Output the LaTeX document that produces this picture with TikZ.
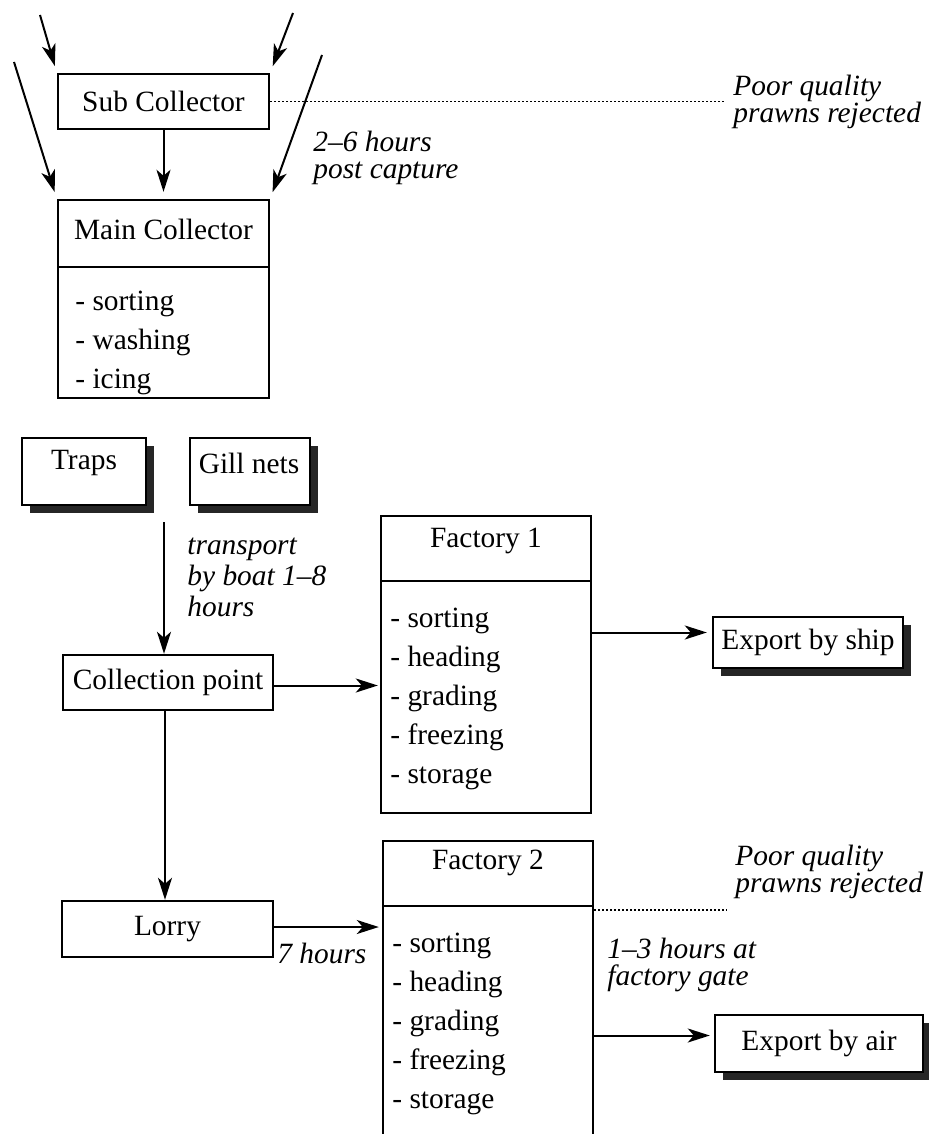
\documentclass[tikz,border=0pt]{standalone}
\usepackage{fontspec}
\setmainfont{Liberation Serif}
\usetikzlibrary{arrows.meta,calc,shadows}
\tikzset{
  base/.style={font=\fontsize{14.7pt}{13.5pt}\selectfont},
  box/.style={base, draw, line width=1.2pt, fill=white, inner sep=0pt},
  sbox/.style={box, general shadow={fill=black!85, shadow xshift=3.8pt, shadow yshift=-4.2pt}},
  lbl/.style={base, inner sep=0pt, align=left, anchor=west},
  ilbl/.style={lbl, font=\fontsize{14.7pt}{13.5pt}\selectfont\itshape},
  items/.style={lbl, font=\fontsize{14.7pt}{19.5pt}\selectfont},
  arr/.style={line width=1pt, -{Stealth[length=11pt,width=7pt,inset=3pt]}},
  dot/.style={line width=0.8pt, dash pattern=on 1pt off 1pt},
  div/.style={line width=1.2pt}
}
\begin{document}
\begin{tikzpicture}[x=0.5pt,y=-0.5pt]
\clip (0,0) rectangle (929,1134);
\fill[white] (0,0) rectangle (929,1134);

% boxes
\node[box, minimum width=105.5pt, minimum height=27.5pt] (sub) at (163.5,101.5) {Sub Collector};
\node[box, minimum width=105.5pt, minimum height=99pt] (main) at (163.5,299) {};
\draw[div] (58,267) -- (269,267);
\node[base] (maint) at (163.5,229) {Main Collector};
\node[items] (maini) at (75,342.5) {- sorting\\- washing\\- icing};

\node[sbox, minimum width=62pt, minimum height=33.5pt] (traps) at (84,471.5) {};
\node[base] (trapst) at (84,463) {Traps};
\node[sbox, minimum width=60pt, minimum height=33.5pt] (gill) at (250,471.5) {};
\node[base] (gillt) at (249,463) {Gill nets};

\node[box, minimum width=105pt, minimum height=27.5pt] (cp) at (168,682.5) {Collection point};
\node[box, minimum width=105.5pt, minimum height=28pt] (lorry) at (167.5,929) {Lorry};

\node[box, minimum width=105pt, minimum height=148.5pt] (f1) at (486,664.5) {};
\draw[div] (381,581) -- (591,581);
\node[base] (f1t) at (486,541) {Factory 1};
\node[items] (f1i) at (390,699) {- sorting\\- heading\\- grading\\- freezing\\- storage};

\node[box, minimum width=105pt, minimum height=159.5pt] (f2) at (488,1000.5) {};
\draw[div] (383,906) -- (593,906);
\node[base] (f2t) at (488,863) {Factory 2};
\node[items] (f2i) at (392,1023.5) {- sorting\\- heading\\- grading\\- freezing\\- storage};

\node[sbox, minimum width=95pt, minimum height=25.5pt] (ship) at (808,642.5) {Export by ship};
\node[sbox, minimum width=104pt, minimum height=28.5pt] (air) at (819,1043.5) {Export by air};

% free ends
\coordinate (tl) at (40,15);
\coordinate (tr) at (293,13);
\coordinate (ll) at (14,62);
\coordinate (lr) at (322,55);
\coordinate (start) at (164,522);
\coordinate (rej1) at (725,101.5);
\coordinate (rej2) at (727,910);

% connectors
\draw[arr, shorten >=3.5pt] (tl) -- (sub.north west);
\draw[arr, shorten >=3.5pt] (tr) -- (sub.north east);
\draw[arr, shorten >=3.5pt] (ll) -- (main.north west);
\draw[arr, shorten >=3.5pt] (lr) -- (main.north east);
\draw[arr, shorten >=3.5pt] (sub.south) -- (main.north);
\draw[dot] (sub.east) -- (rej1);

\draw[arr] (start) -- (start |- cp.north);
\draw[arr, shorten >=1pt] ([yshift=-1.5]cp.east) -- ([yshift=-1.5]cp.east -| f1.west);
\draw[arr] (cp.south -| 165,0) -- (lorry.north -| 165,0);
\draw[arr, shorten >=1.5pt] ([yshift=1]lorry.west -| lorry.east) -- ([yshift=1]lorry.east -| f2.west);
\draw[arr, shorten >=2.5pt] ([yshift=5]ship.west -| f1.east) -- ([yshift=5]ship.west);
\draw[dot] (f2.east |- rej2) -- (rej2);
\draw[arr, shorten >=2pt] ([yshift=4]air.west -| f2.east) -- ([yshift=4]air.west);

% labels
\node[ilbl] (rejt1) at (733,101.5) {Poor quality\\prawns rejected};
\node[ilbl] (capt) at (313,158) {2--6 hours\\post capture};
\node[ilbl, font=\fontsize{14.7pt}{15.5pt}\selectfont\itshape] (boat) at (187,577) {transport\\by boat 1--8\\hours};
\node[ilbl] (sevh) at (277,953) {7 hours};
\node[ilbl] (rejt2) at (735,872) {Poor quality\\prawns rejected};
\node[ilbl] (gate) at (607,965) {1--3 hours at\\factory gate};
\end{tikzpicture}
\end{document}
